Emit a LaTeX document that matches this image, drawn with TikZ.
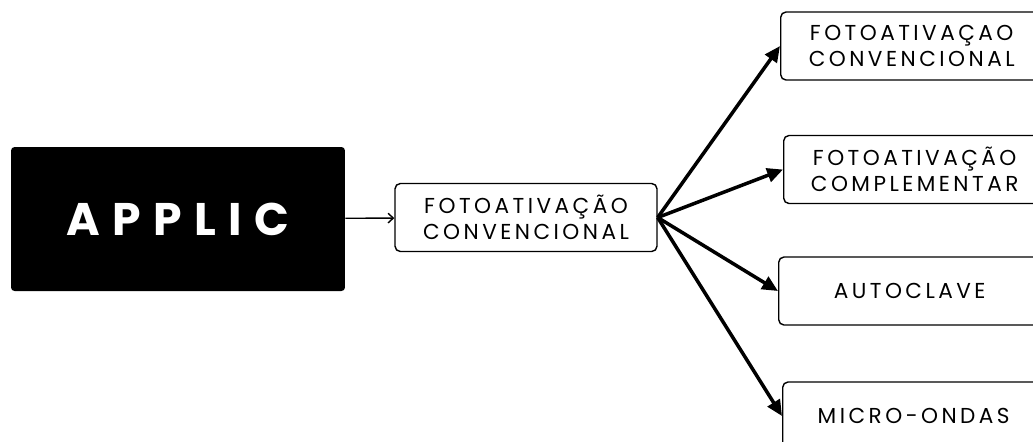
\documentclass[tikz,border=0pt]{standalone}
\usepackage{fontspec}
\usepackage{tikz}
\usetikzlibrary{arrows.meta}
\usetikzlibrary{positioning}

\newfontfamily\titlefont[LetterSpace=27]{Poppins Bold}
\newfontfamily\boxfont[LetterSpace=16]{Poppins}

\tikzset{
  mainbox/.style={fill=black,rounded corners=2pt,minimum width=6.68cm,minimum height=2.88cm,
    text=white,font=\titlefont\fontsize{26}{28}\selectfont},
  optbox/.style={draw,line width=0.8pt,rounded corners=3pt,minimum width=5.24cm,minimum height=1.36cm,
    align=center,font=\boxfont\fontsize{12.3}{15}\selectfont},
  thinarrow/.style={-{Straight Barb[length=3pt,width=5.5pt]},line width=0.8pt},
  thickarrow/.style={-{Triangle[length=9pt,width=8pt]},line width=2pt}
}

\begin{document}
\begin{tikzpicture}[x=0.02cm,y=-0.02cm]
  \clip (0,0) rectangle (1033,441);
  \useasboundingbox (0,0) rectangle (1033,441);
  % left side
  \node[mainbox] (applic) at (178,219) {APPLIC};
  \node[optbox] (foto) at (526,217.5) {FOTOATIVAÇÃO\\CONVENCIONAL};
  % right column, cut off by the page edge
  \node[optbox,anchor=west] (conv) at (780,46) {FOTOATIVAÇAO\\CONVENCIONAL};
  \node[optbox,anchor=west] (comp) at (783,169.5) {FOTOATIVAÇÃO\\COMPLEMENTAR};
  \node[optbox,anchor=west] (auto) at (778,291) {AUTOCLAVE};
  \node[optbox,anchor=west] (micro) at (782,416) {MICRO-ONDAS};
  % connectors
  \draw[thinarrow] (applic) -- (foto);
  \draw[thickarrow] (foto.east) -- (conv.west);
  \draw[thickarrow] (foto.east) -- (comp.west);
  \draw[thickarrow] (foto.east) -- (auto.west);
  \draw[thickarrow] (foto.east) -- (micro.west);
\end{tikzpicture}
\end{document}
